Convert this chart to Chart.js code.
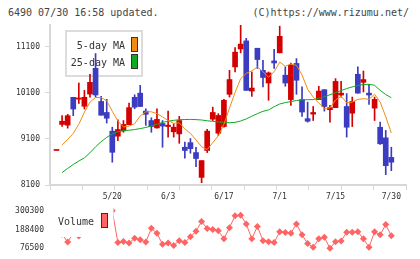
<!DOCTYPE html>
<html>
<head>
<meta charset="utf-8">
<script src="https://cdn.jsdelivr.net/npm/chart.js@4.4.1/dist/chart.umd.min.js"></script>
<style>
    body { margin: 0; background: #fff; }
    #wrap { position: relative; width: 420px; height: 259px; overflow: hidden; font-family: 'DejaVu Sans Mono', monospace; }
    .hdr { position: absolute; top: 6px; font-size: 10px; line-height: 13px; color: #444; white-space: pre; }
    canvas { position: absolute; left: 0; }
</style>
</head>
<body>
<div id="wrap">
    <div class="hdr" style="left:8px">6490 07/30 16:58 updated.</div>
    <div class="hdr" style="right:11px">(C)https://www.rizumu.net/</div>
    <canvas id="priceChart" width="420" height="210" style="top:0"></canvas>
    <canvas id="volChart" width="420" height="59" style="top:200px"></canvas>
</div>
<script>
var dates = ['5/2','5/7','5/8','5/9','5/12','5/13','5/14','5/15','5/16','5/19',
    '5/20','5/21','5/22','5/23','5/26','5/27','5/28','5/29','5/30','6/2',
    '6/3','6/4','6/5','6/6','6/9','6/10','6/11','6/12','6/13','6/16',
    '6/17','6/18','6/19','6/20','6/23','6/24','6/25','6/26','6/27','6/30',
    '7/1','7/2','7/3','7/4','7/7','7/8','7/9','7/10','7/11','7/14',
    '7/15','7/16','7/17','7/18','7/22','7/23','7/24','7/25','7/28','7/29',
    '7/30']
var labelDates = ['5/20', '6/3', '6/17', '7/1', '7/15', '7/30']

var opens  = [8850,9415,9400,10005,9965,9810,10075,10635,9915,9675,
    9270,9160,9275,9410,10005,10095,9705,9500,9340,9435,
    9370,9255,9210,8920,9020,8805,8265,8850,9530,9225,
    9370,10070,10665,11055,11230,10140,11070,10590,10315,10795,
    10970,10485,9955,10740,9955,9540,9640,9955,10170,9735,
    9780,10055,9805,9660,10505,10330,10095,9770,9355,9125,
    8700]
var highs  = [8850,9610,9635,10005,10315,10155,10505,10955,10025,9960,
    9355,9515,9500,9880,10060,10265,9755,9560,9755,9500,
    9705,9430,9590,9030,9110,8920,8630,9310,9790,9650,
    9960,10590,11085,11600,11285,10555,11070,10810,10555,11045,
    11550,10665,10750,10845,10230,9900,9805,10245,10170,9830,
    10410,10350,10085,10010,10665,10575,10285,10010,9465,9285,
    8920]
var lows   = [8850,9370,9335,9605,9870,9750,10010,10010,9615,9445,
    8595,9065,9245,9410,9755,9805,9395,9245,9335,8920,
    9140,9140,9005,8680,8790,8500,8150,8805,9500,9175,
    9355,10010,10555,10970,10155,10025,10630,10230,9940,10630,
    10970,10245,9830,10070,9590,9465,9500,9955,9705,9465,
    9780,10010,9140,9370,10095,10120,9850,9500,8980,8325,
    8410]
var closes = [8850,9485,9605,9750,9990,10005,10330,10055,9615,9550,
    8810,9305,9415,9780,9790,9805,9635,9370,9525,9380,
    9400,9355,9500,8850,8890,8675,8630,9270,9675,9610,
    9940,10390,10985,11160,10155,10205,10825,10435,10535,10750,
    11330,10315,10700,10375,9685,9485,9675,10140,9805,9780,
    10350,10095,9355,9915,10095,10390,10055,9960,8995,8520,
    8595]
var ma5 = [null,8970,9090,9220,9420,9680,9900,10000,10000,9930,
    9700,9490,9360,9380,9430,9600,9690,9690,9650,9580,
    9500,9440,9450,9320,9220,9080,8930,8870,9020,9170,
    9420,9770,10110,10410,10525,10580,10665,10560,10440,10560,
    10770,10680,10730,10700,10490,10180,10010,9880,9760,9775,
    9945,10030,9885,9900,9960,9975,9960,10070,9900,9585,
    9230]
var ma25 = [null,8370,8460,8545,8620,8690,8800,8930,9040,9135,
    9210,9255,9280,9290,9305,9325,9350,9380,9420,9460,
    9485,9505,9518,9522,9524,9520,9512,9495,9482,9468,
    9460,9453,9460,9490,9535,9595,9650,9700,9730,9800,
    9860,9890,9912,9935,9950,9953,9955,9985,10015,10060,
    10105,10150,10195,10230,10260,10282,10287,10265,10156,10065,
    9995]
var volumes = [175000,160000,113400,165000,150000,185000,205000,260000,230000,190000,
    300300,110100,116200,107300,135800,127400,112900,195700,166000,100600,
    107300,93300,121300,110100,145300,177200,236500,194000,188400,180600,
    132500,199600,270100,274000,222000,132500,206900,121300,115700,110100,
    175000,170500,166000,222000,156500,104500,82100,132500,142500,76500,
    114500,119000,171600,171600,175000,132500,82100,175000,156500,218000,
    150900]
var priceTicks = [8100, 9100, 10100, 11100]
var volumeTicks = [76500, 188400, 300300]

var upColor = '#d40000'
var downColor = '#3c3cc0'
var ma5Color = '#f08c14'
var ma25Color = '#10aa20'
var volColor = '#ff6464'
var axisColor = '#d8d8d8'
var textColor = '#333'
var tickFont = { family: 'DejaVu Sans Mono', size: 8 }

var xMin = -1.165
var xMax = 62.63

var candleColors = closes.map(function(c, i) { return c >= opens[i] ? upColor : downColor })

function drawSwatch(c, x, y, color) {
    c.fillStyle = color
    c.fillRect(x, y, 6, 14)
    c.strokeStyle = '#333'
    c.lineWidth = 1
    c.strokeRect(x + 0.5, y + 0.5, 6, 14)
}

var maLegend = {
    id: 'maLegend',
    beforeDatasetsDraw: function(chart) {
        var c = chart.ctx
        c.save()
        c.fillStyle = '#fff'
        c.fillRect(66, 31, 76, 45)
        c.strokeStyle = '#dcdcdc'
        c.lineWidth = 2
        c.strokeRect(66, 31, 76, 45)
        c.font = '10px "DejaVu Sans Mono"'
        c.fillStyle = textColor
        c.textAlign = 'right'
        c.textBaseline = 'middle'
        c.fillText('5-day MA', 125, 46)
        c.fillText('25-day MA', 125, 63)
        drawSwatch(c, 131, 37, ma5Color)
        drawSwatch(c, 131, 54, ma25Color)
        c.restore()
    }
}

var volLegend = {
    id: 'volLegend',
    afterDatasetsDraw: function(chart) {
        var c = chart.ctx
        c.save()
        c.fillStyle = '#fff'
        c.fillRect(51, 3, 62.5, 34)
        c.font = '10px "DejaVu Sans Mono"'
        c.fillStyle = textColor
        c.textAlign = 'left'
        c.textBaseline = 'middle'
        c.fillText('Volume', 58, 22)
        drawSwatch(c, 101, 13, volColor)
        c.restore()
    }
}

var idx = closes.map(function(c, i) { return i })

new Chart(document.getElementById('priceChart'), {
    type: 'bar',
    data: {
        datasets: [
            {
                type: 'line',
                data: idx.filter(function(i) { return ma5[i] !== null }).map(function(i) { return { x: i, y: ma5[i] } }),
                borderColor: ma5Color,
                borderWidth: 1,
                pointRadius: 0,
                order: 1
            },
            {
                type: 'line',
                data: idx.filter(function(i) { return ma25[i] !== null }).map(function(i) { return { x: i, y: ma25[i] } }),
                borderColor: ma25Color,
                borderWidth: 1,
                pointRadius: 0,
                order: 1
            },
            {
                data: idx.map(function(i) { return { x: i, y: [opens[i], closes[i]] } }),
                backgroundColor: candleColors,
                barThickness: 5,
                minBarLength: 1,
                grouped: false,
                clip: 0,
                order: 2
            },
            {
                data: idx.map(function(i) { return { x: i, y: [lows[i], highs[i]] } }),
                backgroundColor: candleColors,
                barThickness: 1,
                grouped: false,
                clip: 0,
                order: 3
            }
        ]
    },
    options: {
        responsive: false,
        animation: false,
        layout: { padding: { top: 25, right: 14, left: 0, bottom: 0 } },
        plugins: { legend: { display: false }, tooltip: { enabled: false } },
        scales: {
            x: {
                type: 'linear',
                min: xMin,
                max: xMax,
                offset: false,
                afterBuildTicks: function(scale) {
                    var t = []
                    for (var k = 0; k <= 11; k++) t.push({ value: xMin + k * (xMax - xMin) / 11 })
                    dates.forEach(function(d, i) { if (labelDates.indexOf(d) >= 0) t.push({ value: i }) })
                    t.sort(function(a, b) { return a.value - b.value })
                    scale.ticks = t
                },
                afterFit: function(scale) { scale.height = 25 },
                ticks: {
                    autoSkip: false,
                    maxRotation: 0,
                    padding: 2,
                    color: textColor,
                    font: tickFont,
                    callback: function(v) {
                        return Number.isInteger(v) && labelDates.indexOf(dates[v]) >= 0 ? dates[v] : ''
                    }
                },
                grid: {
                    offset: false,
                    drawOnChartArea: false,
                    tickLength: 5,
                    tickColor: function(ctx) {
                        return ctx.tick && Number.isInteger(ctx.tick.value) ? 'rgba(0,0,0,0)' : axisColor
                    }
                },
                border: { color: axisColor, width: 2 }
            },
            y: {
                min: 8100,
                max: 11575,
                afterBuildTicks: function(scale) {
                    scale.ticks = priceTicks.map(function(v) { return { value: v } })
                },
                afterFit: function(scale) { scale.width = 50 },
                ticks: { padding: 5, color: textColor, font: tickFont, callback: function(v) { return String(v) } },
                grid: { drawOnChartArea: false, tickLength: 5, color: axisColor },
                border: { color: axisColor, width: 2 }
            }
        }
    },
    plugins: [maLegend]
})

new Chart(document.getElementById('volChart'), {
    type: 'line',
    data: {
        datasets: [{
            data: idx.map(function(i) { return { x: i, y: volumes[i] } }),
            borderColor: volColor,
            backgroundColor: volColor,
            borderWidth: 1,
            pointStyle: 'rectRot',
            pointRadius: 3.5,
            pointBorderWidth: 0,
            pointBackgroundColor: volColor,
            clip: false
        }]
    },
    options: {
        responsive: false,
        animation: false,
        layout: { padding: { top: 9, right: 14, left: 0, bottom: 9.7 } },
        plugins: { legend: { display: false }, tooltip: { enabled: false } },
        scales: {
            x: { type: 'linear', min: xMin, max: xMax, display: false },
            y: {
                min: 76500,
                max: 300300,
                afterBuildTicks: function(scale) {
                    scale.ticks = volumeTicks.map(function(v) { return { value: v } })
                },
                afterFit: function(scale) { scale.width = 50 },
                ticks: { padding: 6, color: textColor, font: tickFont, callback: function(v) { return String(v) } },
                grid: { display: false, drawTicks: false },
                border: { display: false }
            }
        }
    },
    plugins: [volLegend]
})
</script>
</body>
</html>
